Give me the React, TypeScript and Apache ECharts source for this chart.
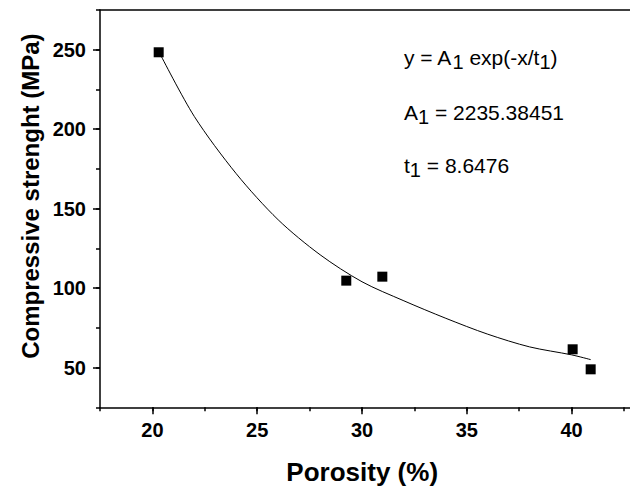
import React, { useEffect, useRef } from 'react';
import * as echarts from 'echarts';

// Tick labels (major every 5 / 50, minor in between)
const xTickLabels = ['17.5', '20', '22.5', '25', '27.5', '30', '32.5', '35', '37.5', '40', '42.5', '45'];
const yTickLabels = ['25', '50', '75', '100', '125', '150', '175', '200', '225', '250', '275'];

// Measured points
const porosity = [20.3, 29.25, 30.97, 40.05, 40.91];
const strength = [248.4, 104.7, 107.2, 61.5, 48.9];

// Fitted curve
const fitX = [20.38, 22, 24, 26, 28, 30, 32, 34, 36, 38, 40, 40.91];
const fitY = [247, 208, 172, 143, 121, 104, 92, 81, 71, 63, 58, 55];

// Annotation lines: [main, sub, main, sub, main]
const eqLine1 = ['y = A', '1', ' exp(-x/t', '1', ')'];
const eqLine2 = ['A', '1', ' = 2235.38451'];
const eqLine3 = ['t', '1', ' = 8.6476'];

const FONT = 'Liberation Sans, Arial, Helvetica, sans-serif';

function richText(parts: string[]) {
  return parts.map((p, i) => (i % 2 === 0 ? `{n|${p}}` : `{s|${p}}`)).join('');
}

const isMajorXTick = (_i: number, v: string) => Math.abs(Number(v) % 5) < 1e-9;
const isMajorXLabel = (_i: number, v: string) => Math.abs(Number(v) % 5) < 1e-9 && Number(v) <= 40;
const isMajorY = (_i: number, v: string) => Math.abs(Number(v) % 50) < 1e-9;

export default function App() {
  const ref = useRef<HTMLDivElement>(null);
  useEffect(() => {
    if (!ref.current) return;
    const chart = echarts.init(ref.current, undefined, { renderer: 'svg' });
    const line = { color: '#000', width: 1.5 };
    const labelStyle = { color: '#000', fontFamily: FONT, fontWeight: 'bold' as const, fontSize: 20 };
    const rich = {
      n: { fontFamily: FONT, fontSize: 21, lineHeight: 24, color: '#000' },
      s: { fontFamily: FONT, fontSize: 20, lineHeight: 22, padding: [10, 0, 0, 0], color: '#000' },
    };
    const eqs = [eqLine1, eqLine2, eqLine3];
    const eqY = [57, 112, 165];
    chart.setOption({
      animation: false,
      backgroundColor: '#fff',
      grid: {
        left: 100,
        top: 10,
        right: 3.6,
        bottom: 80.7,
        show: false,
        containLabel: false,
        outerBoundsMode: 'none',
      },
      xAxis: [
        {
          type: 'value',
          min: 17.5,
          max: 45,
          interval: 2.5,
          position: 'bottom',
          axisLine: { show: true, onZero: false, lineStyle: line },
          axisTick: { show: true, length: 4, lineStyle: line },
          axisLabel: { show: false },
          splitLine: { show: false },
          name: 'Porosity (%)',
          nameLocation: 'middle',
          nameGap: 52,
          nameTextStyle: {
            color: '#000',
            fontFamily: FONT,
            fontWeight: 'bold',
            fontSize: 26,
            padding: [0, 52, 0, 0],
          },
        },
        {
          type: 'category',
          data: xTickLabels,
          boundaryGap: false,
          position: 'bottom',
          axisLine: { show: false },
          axisTick: { show: true, length: 7, interval: isMajorXTick, lineStyle: line },
          axisLabel: { show: true, interval: isMajorXLabel, margin: 13, ...labelStyle },
          splitLine: { show: false },
        },
        {
          type: 'value',
          min: 17.5,
          max: 45,
          position: 'top',
          axisLine: { show: true, onZero: false, lineStyle: line },
          axisTick: { show: false },
          axisLabel: { show: false },
          splitLine: { show: false },
        },
      ],
      yAxis: [
        {
          type: 'value',
          min: 25,
          max: 275,
          interval: 25,
          position: 'left',
          axisLine: { show: true, onZero: false, lineStyle: line },
          axisTick: { show: true, length: 4, lineStyle: line },
          axisLabel: { show: false },
          splitLine: { show: false },
          name: 'Compressive strenght (MPa)',
          nameLocation: 'middle',
          nameGap: 58,
          nameTextStyle: {
            color: '#000',
            fontFamily: FONT,
            fontWeight: 'bold',
            fontSize: 24,
            padding: [0, 0, 0, 25],
          },
        },
        {
          type: 'category',
          data: yTickLabels,
          boundaryGap: false,
          position: 'left',
          axisLine: { show: false },
          axisTick: { show: true, length: 7, interval: isMajorY, lineStyle: line },
          axisLabel: { show: true, interval: isMajorY, margin: 14, ...labelStyle },
          splitLine: { show: false },
        },
      ],
      series: [
        {
          type: 'line',
          xAxisIndex: 0,
          yAxisIndex: 0,
          data: fitX.map((x, i) => [x, fitY[i]]),
          smooth: 0.3,
          showSymbol: false,
          symbol: 'none',
          lineStyle: { color: '#000', width: 1 },
          silent: true,
        },
        {
          type: 'scatter',
          xAxisIndex: 0,
          yAxisIndex: 0,
          data: porosity.map((x, i) => [x, strength[i]]),
          symbol: 'rect',
          symbolSize: 10,
          itemStyle: { color: '#000', opacity: 1 },
        },
      ],
      graphic: eqs.map((parts, i) => ({
        type: 'text',
        x: 404,
        y: eqY[i],
        style: {
          text: richText(parts),
          rich,
          fill: '#000',
          font: `21px ${FONT}`,
          verticalAlign: 'middle',
          align: 'left',
        },
      })),
    });
    return () => chart.dispose();
  }, []);
  return (
    <div style={{ position: 'absolute', left: 0, top: 0, width: 630, height: 488, overflow: 'hidden', background: '#fff' }}>
      <div ref={ref} style={{ width: 680, height: 488 }} />
    </div>
  );
}
